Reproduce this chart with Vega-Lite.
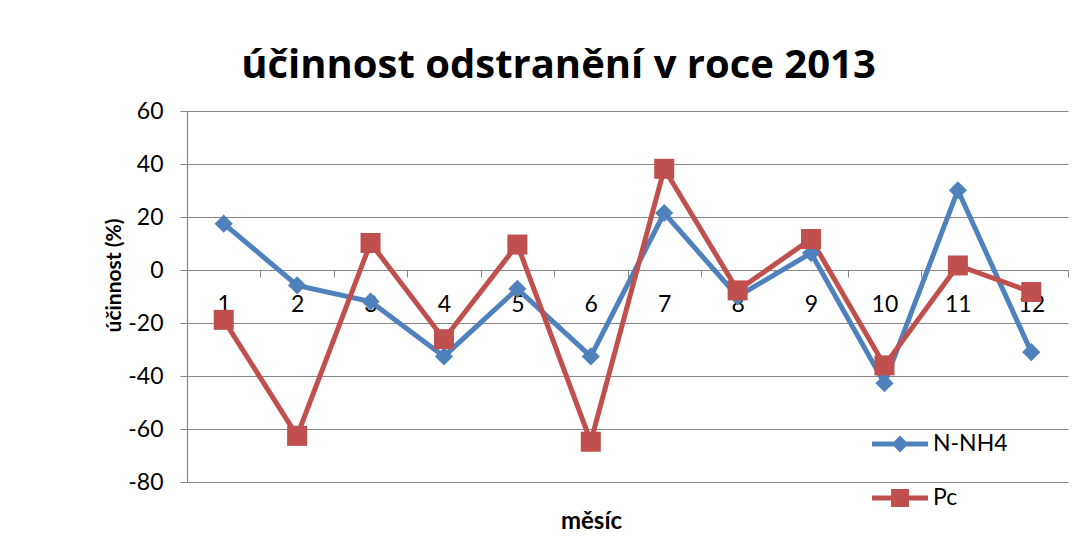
{
  "$schema": "https://vega.github.io/schema/vega-lite/v6.json",
  "width": 881,
  "height": 371,
  "autosize": {"type": "none"},
  "padding": {"left": 187, "top": 111, "right": 22, "bottom": 57},
  "background": "white",
  "title": {
    "text": "účinnost odstranění v roce 2013",
    "font": "Open Sans",
    "fontSize": 40,
    "fontWeight": "bold",
    "color": "black",
    "anchor": "middle",
    "frame": "group",
    "baseline": "alphabetic",
    "offset": 31,
    "dy": 49,
    "dx": -69
  },
  "config": {
    "view": {"stroke": null},
    "font": "Lato",
    "axis": {"labelFont": "Lato", "titleFont": "Lato", "labelColor": "black", "titleColor": "black"}
  },
  "data": {
    "values": [
      {"month": "1", "series": "N-NH4", "value": 17.5},
      {"month": "2", "series": "N-NH4", "value": -5.8},
      {"month": "3", "series": "N-NH4", "value": -11.9},
      {"month": "4", "series": "N-NH4", "value": -32.6},
      {"month": "5", "series": "N-NH4", "value": -7.1},
      {"month": "6", "series": "N-NH4", "value": -32.6},
      {"month": "7", "series": "N-NH4", "value": 21.5},
      {"month": "8", "series": "N-NH4", "value": -10.0},
      {"month": "9", "series": "N-NH4", "value": 6.4},
      {"month": "10", "series": "N-NH4", "value": -42.7},
      {"month": "11", "series": "N-NH4", "value": 30.1},
      {"month": "12", "series": "N-NH4", "value": -31.0},
      {"month": "1", "series": "Pc", "value": -18.8},
      {"month": "2", "series": "Pc", "value": -62.6},
      {"month": "3", "series": "Pc", "value": 10.2},
      {"month": "4", "series": "Pc", "value": -26.1},
      {"month": "5", "series": "Pc", "value": 9.6},
      {"month": "6", "series": "Pc", "value": -64.8},
      {"month": "7", "series": "Pc", "value": 38.2},
      {"month": "8", "series": "Pc", "value": -7.7},
      {"month": "9", "series": "Pc", "value": 11.7},
      {"month": "10", "series": "Pc", "value": -36.0},
      {"month": "11", "series": "Pc", "value": 1.7},
      {"month": "12", "series": "Pc", "value": -8.3}
    ]
  },
  "encoding": {
    "x": {
      "field": "month",
      "type": "ordinal",
      "sort": null,
      "scale": {"type": "band", "paddingInner": 0, "paddingOuter": 0},
      "axis": {
        "offset": -212,
        "labelAngle": 0,
        "labelFontSize": 23,
        "labelPadding": 16,
        "tickBand": "extent",
        "tickSize": 7,
        "tickColor": "#878787",
        "domainColor": "#878787",
        "domainWidth": 1.2,
        "grid": false,
        "title": "měsíc",
        "titleFontSize": 24,
        "titleFontWeight": "bold",
        "titleX": 404,
        "titleY": 258,
        "titleBaseline": "alphabetic"
      }
    },
    "y": {
      "field": "value",
      "type": "quantitative",
      "scale": {"domain": [-80, 60], "nice": false, "zero": false},
      "axis": {
        "values": [-80, -60, -40, -20, 0, 20, 40, 60],
        "labelExpr": "'' + datum.value",
        "labelFontSize": 23,
        "labelPadding": 17,
        "tickSize": 7,
        "tickColor": "#878787",
        "domainColor": "#878787",
        "domainWidth": 1.2,
        "grid": true,
        "gridColor": "#878787",
        "gridWidth": 1.2,
        "title": "účinnost (%)",
        "titleFontSize": 21,
        "titleFontWeight": "bold",
        "titleX": -73,
        "titleY": 164,
        "titleAngle": -90,
        "titleBaseline": "middle",
        "titleAlign": "center"
      }
    },
    "color": {
      "field": "series",
      "type": "nominal",
      "scale": {"domain": ["N-NH4", "Pc"], "range": ["#4F81BD", "#C0504D"]},
      "legend": {
        "title": null,
        "orient": "none",
        "legendX": 685,
        "legendY": 305,
        "labelFont": "Lato",
        "labelFontSize": 23,
        "labelColor": "black",
        "symbolSize": 3136,
        "symbolStrokeWidth": 0,
        "rowPadding": 14,
        "labelOffset": 5,
        "encode": {
          "symbols": {
            "update": {
              "shape": {"signal": "datum.value === 'N-NH4' ? 'M-1,-0.09H1V0.09H-1Z M0,-0.3L0.3,0L0,0.3L-0.3,0Z' : 'M-1,-0.09H1V0.09H-1Z M-0.32,-0.32H0.32V0.32H-0.32Z'"},
              "fill": {"signal": "datum.value === 'N-NH4' ? '#4F81BD' : '#C0504D'"},
              "size": {"value": 3136},
              "opacity": {"value": 1},
              "strokeWidth": {"value": 0}
            }
          }
        }
      }
    }
  },
  "layer": [
    {
      "mark": {"type": "line", "strokeWidth": 5}
    },
    {
      "transform": [{"filter": "datum.series === 'N-NH4'"}],
      "mark": {"type": "point", "filled": true, "opacity": 1, "shape": "diamond", "size": 330}
    },
    {
      "transform": [{"filter": "datum.series === 'Pc'"}],
      "mark": {"type": "point", "filled": true, "opacity": 1, "shape": "square", "size": 400}
    }
  ]
}
